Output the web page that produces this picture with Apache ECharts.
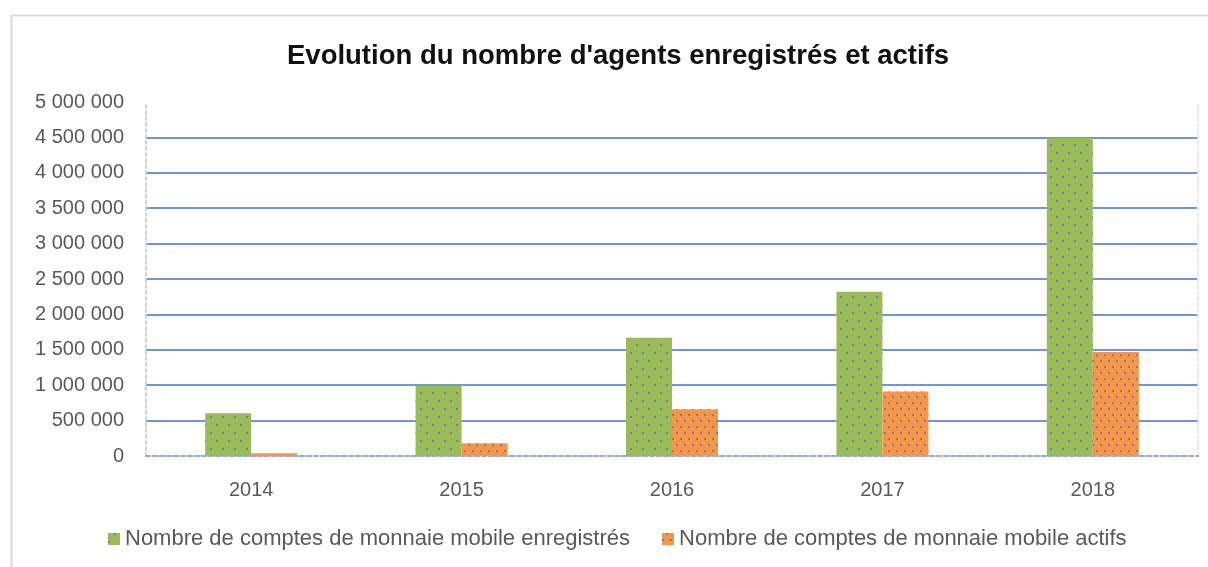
<!DOCTYPE html>
<html>
<head>
    <meta charset="utf-8" />
    <title>Evolution</title>
    <script src="https://cdn.jsdelivr.net/npm/echarts@6/dist/echarts.min.js"></script>
    <style>
        html, body { margin: 0; padding: 0; background: #fff; }
        #main { width: 1208px; height: 567px; }
    </style>
</head>
<body>
    <div id="main"></div>
    <script type="text/javascript">
        var years = ['2014', '2015', '2016', '2017', '2018'];
        var registered = [603000, 990000, 1670000, 2320000, 4490000];
        var active = [38000, 180000, 660000, 910000, 1470000];
        var nameRegistered = 'Nombre de comptes de monnaie mobile enregistrés';
        var nameActive = 'Nombre de comptes de monnaie mobile actifs';

        var font = 'Liberation Sans';
        var borderDots = { color: '#c8d2e4', width: 2, type: [3, 3] };

        // 5 000 000 style thousands
        function fmt(v) {
            return String(v).replace(/\B(?=(\d{3})+(?!\d))/g, ' ');
        }

        var myChart = echarts.init(document.getElementById('main'));
        var option = {
            backgroundColor: '#fff',
            animation: false,
            graphic: [{
                type: 'rect',
                left: 9, top: 13,
                shape: { width: 1220, height: 580 },
                style: { fill: 'none', stroke: '#d9d9d9', lineWidth: 2 },
                silent: true
            }],
            title: {
                text: "Evolution du nombre d'agents enregistrés et actifs",
                left: 282,
                top: 37,
                textStyle: { fontFamily: font, fontSize: 27.5, fontWeight: 'bold', color: '#111' }
            },
            legend: {
                top: 523,
                left: 103,
                itemWidth: 12,
                itemHeight: 12,
                itemGap: 32,
                icon: 'rect',
                textStyle: { fontFamily: font, fontSize: 22, color: '#595959' }
            },
            grid: { left: 146, right: 10, top: 102, bottom: 111 },
            xAxis: [{
                type: 'category',
                data: years,
                axisTick: { show: false },
                axisLine: { lineStyle: borderDots },
                axisLabel: { margin: 24, fontFamily: font, fontSize: 20, color: '#595959' }
            }, {
                type: 'category',
                position: 'top',
                data: years,
                axisTick: { show: false },
                axisLabel: { show: false },
                axisLine: { lineStyle: { color: '#8faadc', width: 2, type: [4, 3] } }
            }],
            yAxis: [{
                type: 'value',
                min: 0,
                max: 5000000,
                interval: 500000,
                axisLine: { show: true, lineStyle: borderDots },
                axisTick: { show: false },
                axisLabel: {
                    margin: 22,
                    fontFamily: font, fontSize: 20, color: '#595959',
                    formatter: fmt
                },
                splitLine: {
                    show: true,
                    showMinLine: false,
                    showMaxLine: false,
                    lineStyle: { color: '#4472c4', width: 1.5 }
                }
            }, {
                type: 'value',
                position: 'right',
                min: 0,
                max: 5000000,
                interval: 500000,
                axisLine: { show: true, lineStyle: { color: '#e3e8f2', width: 2, type: [3, 3] } },
                axisTick: { show: false },
                axisLabel: { show: false },
                splitLine: { show: false }
            }],
            series: [{
                name: nameRegistered,
                type: 'bar',
                data: registered,
                barWidth: 46,
                barGap: '0%',
                itemStyle: {
                    color: '#9bbb59',
                    decal: {
                        symbol: 'rect',
                        symbolSize: 1,
                        color: 'rgba(68,114,196,0.7)',
                        dashArrayX: [[2, 10], [0, 6, 2, 4]],
                        dashArrayY: [2, 6]
                    }
                }
            }, {
                name: nameActive,
                type: 'bar',
                data: active,
                barWidth: 46,
                itemStyle: {
                    color: '#f79646',
                    decal: {
                        symbol: 'rect',
                        symbolSize: 1,
                        color: 'rgba(68,114,196,0.7)',
                        dashArrayX: [[2, 6], [0, 4, 2, 2]],
                        dashArrayY: [2, 4]
                    }
                }
            }]
        };
        myChart.setOption(option);
    </script>
</body>
</html>
